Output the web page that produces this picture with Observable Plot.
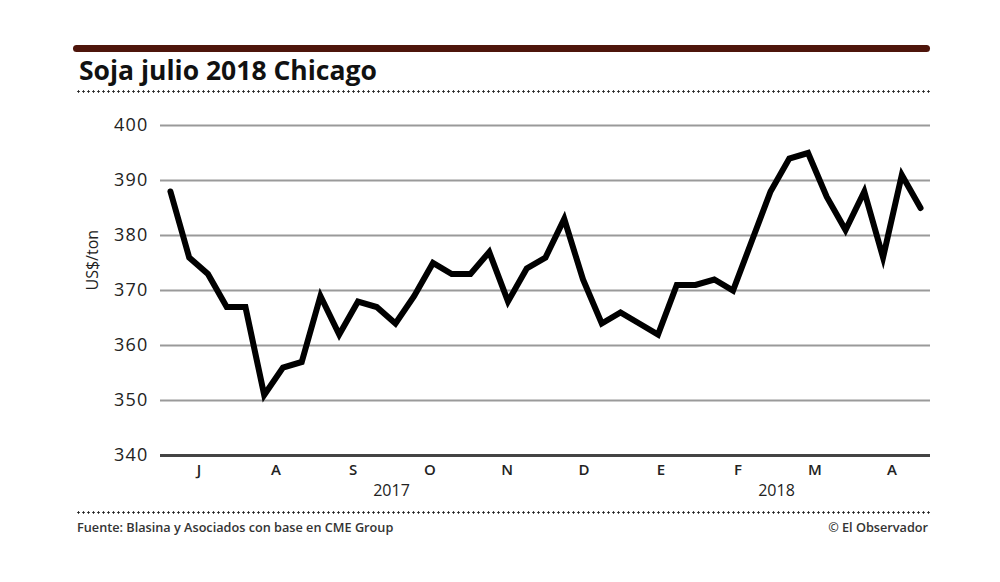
<!DOCTYPE html>
<html>
<head>
<meta charset="utf-8">
<script src="https://cdn.jsdelivr.net/npm/d3@7"></script>
<script src="https://cdn.jsdelivr.net/npm/@observablehq/plot@0.6"></script>
<style>
  body { margin: 0; background: #fff; }
  #wrap { position: relative; width: 1000px; height: 582px; font-family: "Open Sans", sans-serif; color: #222; overflow: hidden; }
  .brown { position: absolute; left: 73px; top: 44.5px; width: 857px; height: 7px; border-radius: 4px; background: #4e150b; }
  .title { position: absolute; left: 79px; top: 57px; font-weight: 700; font-size: 26.5px; line-height: 26px; color: #111; white-space: nowrap; }
  .dots { position: absolute; left: 76px; width: 855px; height: 3px;
          background-image: radial-gradient(circle, #222 0.9px, rgba(0,0,0,0) 1.4px);
          background-size: 5px 3px; background-repeat: repeat-x; }
  .foot { position: absolute; top: 521px; font-size: 12.7px; line-height: 13px; font-weight: 600; color: #333; white-space: nowrap; }
  #chart { position: absolute; left: 0; top: 100px; }
  #chart g[aria-label="y-axis tick label"] text { letter-spacing: 1.2px; }
</style>
</head>
<body>
<div id="wrap">
  <div class="brown"></div>
  <div class="title">Soja julio 2018 Chicago</div>
  <div class="dots" style="top:90px"></div>
  <div id="chart"></div>
  <div class="dots" style="top:511px"></div>
  <div class="foot" style="left:77px">Fuente: Blasina y Asociados con base en CME Group</div>
  <div class="foot" style="right:72px">© El Observador</div>
</div>
<script>
// Soybean July 2018 futures, Chicago (US$/ton), roughly weekly observations
const prices = [388, 376, 373, 367, 367, 351, 356, 357, 369, 362, 368, 367, 364, 369, 375, 373, 373, 377, 368, 374, 376, 383, 372, 364, 366, 364, 362, 371, 371, 372, 370, 379, 388, 394, 395, 387, 381, 388, 376, 391, 385];
const months = ["J", "A", "S", "O", "N", "D", "E", "F", "M", "A"];
const years = ["2017", "2018"];
const yearMonths = [6, 4]; // number of month labels under each year
const yTicks = [340, 350, 360, 370, 380, 390, 400];

const n = prices.length;
const x0 = -0.53, x1 = n - 1 + 0.53;
const bandW = (x1 - x0) / months.length;
const monthCenters = months.map((m, i) => x0 + (i + 0.5) * bandW);
let acc = 0;
const yearCenters = yearMonths.map(k => { const c = x0 + (acc + k / 2) * bandW; acc += k; return c; });
const data = prices.map((p, i) => ({i, p}));

const chart = Plot.plot({
  width: 1000,
  height: 410,
  marginLeft: 160,
  marginRight: 70,
  marginTop: 25,
  marginBottom: 55,
  style: {fontFamily: "Open Sans, sans-serif", color: "#222", background: "transparent"},
  x: {domain: [x0, x1]},
  y: {domain: [340, 400]},
  marks: [
    Plot.ruleY(yTicks.filter(d => d > 340), {stroke: "#9a9a9a", strokeWidth: 2}),
    Plot.ruleY([340], {stroke: "#444", strokeWidth: 3}),
    Plot.axisY({ticks: yTicks, tickSize: 0, tickPadding: 12, label: null, fontSize: 18, fill: "#222"}),
    Plot.axisX({ticks: monthCenters, tickFormat: (d, i) => months[i], tickSize: 0, tickPadding: 9, label: null, fontSize: 15, fontWeight: 600, fill: "#222"}),
    Plot.text(years, {x: (d, i) => yearCenters[i], frameAnchor: "bottom", dy: 40, fontSize: 16, fill: "#222"}),
    Plot.text(["US$/ton"], {frameAnchor: "left", dx: -68, rotate: -90, fontSize: 16, fill: "#222"}),
    Plot.line(data, {x: "i", y: "p", stroke: "#000", strokeWidth: 6, strokeLinejoin: "miter", strokeMiterlimit: 6})
  ]
});
document.getElementById("chart").appendChild(chart);
</script>
</body>
</html>
